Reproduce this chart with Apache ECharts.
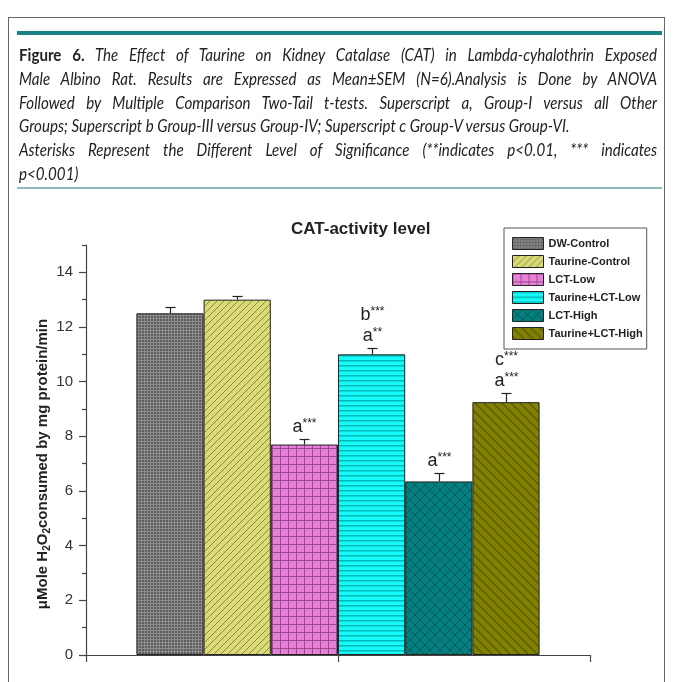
<!DOCTYPE html>
<html>
<head>
<meta charset="utf-8">
<script src="https://cdn.jsdelivr.net/npm/echarts@6/dist/echarts.min.js"></script>
<style>
body { margin: 0; background: #fff; }
#wrap { position: relative; width: 675px; height: 682px; overflow: hidden; }
#box { position: absolute; left: 0; top: 0; width: 675px; height: 682px; }
#frame { position: absolute; left: 8px; top: 17px; width: 657px; height: 720px; border: 1.5px solid #666; box-sizing: border-box; }
#bar1 { position: absolute; left: 17px; top: 31px; width: 645px; height: 4px; background: #1b8189; }
#bar2 { position: absolute; left: 17px; top: 187px; width: 645px; height: 2px; background: #8dbcbf; }
#cap { position: absolute; left: 19px; top: 43px; width: 717px; transform: scaleX(0.89); transform-origin: 0 0;
       font-family: Lato, sans-serif; font-style: italic; font-size: 17px; color: #222; }
#cap div { height: 23.8px; line-height: 23.8px; white-space: nowrap; }
#cap .j { text-align: justify; text-align-last: justify; white-space: normal; overflow: hidden; }
#cap b { font-style: normal; }
</style>
</head>
<body>
<div id="wrap">
  <div id="box"></div>
  <div id="frame"></div>
  <div id="bar1"></div>
  <div id="bar2"></div>
  <div id="cap">
    <div class="j"><b>Figure 6.</b> The Effect of Taurine on Kidney Catalase (CAT) in Lambda-cyhalothrin Exposed</div>
    <div class="j">Male Albino Rat. Results are Expressed as Mean±SEM (N=6).Analysis is Done by ANOVA</div>
    <div class="j">Followed by Multiple Comparison Two-Tail t-tests. Superscript a, Group-I versus all Other</div>
    <div>Groups; Superscript b Group-III versus Group-IV; Superscript c Group-V versus Group-VI.</div>
    <div class="j">Asterisks Represent the Different Level of Significance (**indicates p&lt;0.01, *** indicates</div>
    <div>p&lt;0.001)</div>
  </div>
</div>
<script>
// 数据
var groups = ['DW-Control', 'Taurine-Control', 'LCT-Low', 'Taurine+LCT-Low', 'LCT-High', 'Taurine+LCT-High'];
var means = [12.5, 13.0, 7.7, 11.0, 6.35, 9.25];
var sems = [0.22, 0.15, 0.2, 0.22, 0.3, 0.32];
// significance marks, bottom to top: [letter, stars]
var marks = [[], [], [['a', '***']], [['a', '**'], ['b', '***']], [['a', '***']], [['a', '***'], ['c', '***']]];
var yTicks = [0, 2, 4, 6, 8, 10, 12, 14];
var yMinor = [1, 3, 5, 7, 9, 11, 13, 15];

var font = '"Liberation Sans", Arial, sans-serif';

function pattern(w, h, bg, fg, lw, draw) {
    var c = document.createElement('canvas');
    c.width = w; c.height = h;
    var g = c.getContext('2d');
    g.fillStyle = bg;
    g.fillRect(0, 0, w, h);
    g.strokeStyle = fg;
    g.lineWidth = lw;
    g.beginPath();
    draw(g, w, h);
    g.stroke();
    return {image: c, repeat: 'repeat'};
}

var fills = [
    pattern(3, 3, '#5c5c5c', '#8e8e8e', 1, function (g, w, h) {
        g.moveTo(0, 0.5); g.lineTo(w, 0.5); g.moveTo(0.5, 0); g.lineTo(0.5, h);
    }),
    pattern(7, 7, '#dada78', '#8c8c3c', 1, function (g, w, h) {
        g.moveTo(-1, h + 1); g.lineTo(w + 1, -1);
        g.moveTo(-1, 1); g.lineTo(1, -1);
        g.moveTo(w - 1, h + 1); g.lineTo(w + 1, h - 1);
    }),
    pattern(8, 8, '#e67fd8', '#9c4a90', 1, function (g, w, h) {
        g.moveTo(0, 0.5); g.lineTo(w, 0.5); g.moveTo(0.5, 0); g.lineTo(0.5, h);
    }),
    pattern(1, 5, '#16fafa', '#03b8b8', 1.4, function (g, w, h) {
        g.moveTo(0, 0.7); g.lineTo(w, 0.7);
    }),
    pattern(10, 10, '#03807f', '#035a5a', 1, function (g, w, h) {
        g.moveTo(0, 0); g.lineTo(w, h); g.moveTo(0, h); g.lineTo(w, 0);
    }),
    pattern(9, 9, '#828200', '#5a5a00', 1.4, function (g, w, h) {
        g.moveTo(-1, -1); g.lineTo(w + 1, h + 1);
        g.moveTo(-1, h - 1); g.lineTo(1, h + 1);
        g.moveTo(w - 1, -1); g.lineTo(w + 1, 1);
    })
];

var myChart = echarts.init(document.getElementById('box'));

var series = groups.map(function (name, i) {
    return {
        name: name,
        type: 'bar',
        data: [means[i]],
        barGap: '0%',
        barCategoryGap: '20%',
        itemStyle: {color: fills[i], borderColor: '#222', borderWidth: 1},
        z: 2
    };
});

// 误差线和显著性标记
series.push({
    type: 'custom',
    xAxisIndex: 0,
    yAxisIndex: 0,
    encode: {x: 0, y: 1},
    data: means.map(function (v, i) { return [0, v, sems[i], i]; }),
    z: 5,
    renderItem: function (params, api) {
        var i = api.value(3);
        var band = api.size([1, 0])[0];
        var bw = band * 0.8 / groups.length;
        var c0 = api.coord([0, 0]);
        var x = Math.round(c0[0] - band * 0.4 + (i + 0.5) * bw) + 0.5;
        var yMean = api.coord([0, api.value(1)])[1];
        var yTop = Math.round(api.coord([0, api.value(1) + api.value(2)])[1]) + 0.5;
        var children = [
            {type: 'line', shape: {x1: x, y1: yMean, x2: x, y2: yTop}, style: {stroke: '#222', lineWidth: 1.2}},
            {type: 'line', shape: {x1: x - 5, y1: yTop, x2: x + 5, y2: yTop}, style: {stroke: '#222', lineWidth: 1.2}}
        ];
        marks[i].forEach(function (m, k) {
            children.push({
                type: 'text',
                x: x,
                y: yTop - 12 - k * 21,
                style: {
                    text: '{l|' + m[0] + '}{s|' + m[1] + '}',
                    align: 'center',
                    verticalAlign: 'middle',
                    rich: {
                        l: {fontFamily: font, fontSize: 18, fill: '#222', lineHeight: 20},
                        s: {fontFamily: font, fontSize: 12, fill: '#222', padding: [0, 0, 7, 0], lineHeight: 20}
                    }
                }
            });
        });
        return {type: 'group', children: children};
    }
});

var option = {
    animation: false,
    title: {
        text: 'CAT-activity level',
        left: 286,
        top: 216,
        textStyle: {fontFamily: font, fontSize: 17, fontWeight: 'bold', color: '#222'}
    },
    legend: {
        data: groups,
        orient: 'vertical',
        left: 504,
        top: 228,
        itemWidth: 31,
        itemHeight: 12,
        itemGap: 5,
        padding: [9, 4, 9, 8],
        borderColor: '#555',
        borderWidth: 1,
        icon: 'rect',
        itemStyle: {borderColor: '#222', borderWidth: 1},
        textStyle: {fontFamily: font, fontSize: 11, fontWeight: 'bold', color: '#222'}
    },
    grid: {left: 86, right: 85, top: 245, bottom: 27, containLabel: false},
    xAxis: [
        {
            type: 'category',
            data: [''],
            axisLine: {lineStyle: {color: '#444', width: 1.2}},
            axisTick: {show: false},
            axisLabel: {show: false}
        },
        {
            type: 'value',
            min: 0,
            max: 2,
            interval: 1,
            position: 'bottom',
            axisLine: {show: false},
            axisTick: {show: true, length: 7, lineStyle: {color: '#444', width: 1.2}},
            axisLabel: {show: false},
            splitLine: {show: false}
        }
    ],
    yAxis: [
        {
            type: 'value',
            min: 0,
            max: 15,
            interval: 1,
            axisLine: {show: true, lineStyle: {color: '#444', width: 1.2}},
            axisTick: {show: true, length: 7, customValues: yTicks, lineStyle: {color: '#444', width: 1.2}},
            axisLabel: {customValues: yTicks, margin: 13, fontFamily: font, fontSize: 15, color: '#333'},
            splitLine: {show: false}
        },
        {
            type: 'value',
            min: 0,
            max: 15,
            interval: 1,
            position: 'left',
            offset: 0,
            axisLine: {show: false},
            axisTick: {show: true, length: 4, customValues: yMinor, lineStyle: {color: '#444', width: 1.2}},
            axisLabel: {show: false},
            splitLine: {show: false}
        }
    ],
    graphic: [
        {
            type: 'text',
            x: 43,
            y: 464,
            rotation: Math.PI / 2,
            style: {
                text: '{n|μMole H}{b|2}{n|O}{b|2}{n|consumed by mg protein/min}',
                align: 'center',
                verticalAlign: 'middle',
                rich: {
                    n: {fontFamily: font, fontSize: 15, fontWeight: 'bold', fill: '#222', lineHeight: 18},
                    b: {fontFamily: font, fontSize: 10, fontWeight: 'bold', fill: '#222', padding: [8, 0, 0, 0], lineHeight: 18}
                }
            }
        }
    ],
    series: series
};

myChart.setOption(option);
</script>
</body>
</html>
